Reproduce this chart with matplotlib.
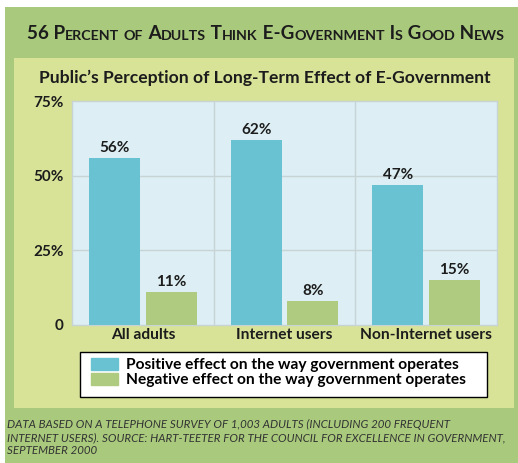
import matplotlib.pyplot as plt
from matplotlib.patches import Rectangle, Patch
import numpy as np

# data
categories = ['All adults', 'Internet users', 'Non-Internet users']
positive = [56, 62, 47]
negative = [11, 8, 15]
ytick_vals = [0, 25, 50, 75]
ytick_labels = ['0', '25%', '50%', '75%']
legend_labels = ['Positive effect on the way government operates',
                 'Negative effect on the way government operates']
title = '56 Percent of Adults Think E-Government Is Good News'
subtitle = "Public\u2019s Perception of Long-Term Effect of E-Government"
note_lines = ['Data based on a telephone survey of 1,003 adults (including 200 frequent',
              'Internet users). Source: Hart-Teeter for the Council for Excellence in Government,',
              'September 2000']

blue = '#69c2d1'
green = '#aecb7f'
outer = '#a9c97c'
inner = '#d8e398'
plotbg = '#ddeff4'
ink = '#1c1c1c'

plt.rcParams['font.family'] = ['Lato', 'DejaVu Sans']

W, H = 518, 463
fig = plt.figure(figsize=(W / 100, H / 100), dpi=100)

# background axes in pixel coords
bg = fig.add_axes([0, 0, 1, 1], zorder=0)
bg.set_xlim(0, W)
bg.set_ylim(H, 0)
bg.axis('off')
bg.add_patch(Rectangle((5, 7), W - 5, H - 7, color=outer, lw=0))
bg.add_patch(Rectangle((14, 58), 514 - 14, 408 - 58, color=inner, lw=0))


def small_caps(x, y, text, big, small, **kw):
    # split text into runs of big caps / small caps
    runs = []
    for ch in text:
        is_big = not ch.islower()
        if runs and runs[-1][1] == is_big:
            runs[-1][0] += ch
        else:
            runs.append([ch, is_big])
    prev = None
    for seg, is_big in runs:
        size = big if is_big else small
        seg = seg.upper()
        if prev is None:
            prev = bg.text(x, y, seg, fontsize=size, va='bottom', ha='left', **kw)
        else:
            prev = bg.annotate(seg, xy=(1, 0), xycoords=prev, fontsize=size,
                               va='bottom', ha='left', **kw)


small_caps(27, 42, title, 13.6, 10.3, fontweight='bold', color=ink)

bg.text(265, 78, subtitle, fontsize=12.6, fontweight='bold', color=ink,
        ha='center', va='center')

for i, line in enumerate(note_lines):
    bg.text(7, 428 + i * 13, line.upper(), fontsize=8.3, fontstyle='italic',
            color='#333333', ha='left', va='baseline')

# main chart
ax = fig.add_axes([72 / W, 1 - 325 / H, 425 / W, 224 / H], zorder=2)
ax.set_facecolor(plotbg)
x = np.arange(len(categories))
bw = 0.36
b1 = ax.bar(x - 0.2, positive, bw, color=blue, zorder=3)
b2 = ax.bar(x + 0.2, negative, bw, color=green, zorder=3)
for bars, vals in ((b1, positive), (b2, negative)):
    for r, v in zip(bars, vals):
        ax.text(r.get_x() + r.get_width() / 2, v + 1, f'{v}%', ha='center',
                va='bottom', fontsize=11, fontweight='bold', color=ink)

ax.set_xlim(-0.5, 2.5)
ax.set_ylim(0, 75)
ax.set_yticks(ytick_vals)
ax.set_yticklabels(ytick_labels, fontsize=11, fontweight='bold', color=ink)
ax.set_xticks(x)
ax.set_xticklabels(categories, fontsize=11.2, fontweight='bold', color=ink)
ax.tick_params(length=0)
ax.tick_params(axis='y', pad=6)
ax.tick_params(axis='x', pad=2)
for yv in (25, 50):
    ax.axhline(yv, color='#c8d3d6', lw=1, zorder=1)
for xv in (0.5, 1.5):
    ax.axvline(xv, color='#c8d3d6', lw=1, zorder=1)
for s in ax.spines.values():
    s.set_color('#c8d3d6')
    s.set_linewidth(1)

# legend box
bg.add_patch(Rectangle((80, 352), 407, 45, facecolor='white', edgecolor='black', lw=1, zorder=3))
handles = [Patch(color=blue), Patch(color=green)]
bg.legend(handles, legend_labels, loc='upper left', bbox_to_anchor=(91, 358),
          bbox_transform=bg.transData, frameon=False,
          handlelength=1.75, handleheight=0.78, handletextpad=0.5,
          labelspacing=0.05, borderpad=0, borderaxespad=0,
          prop={'weight': 'bold', 'size': 11.2}).set_zorder(4)

fig.savefig('out.png', dpi=100)
